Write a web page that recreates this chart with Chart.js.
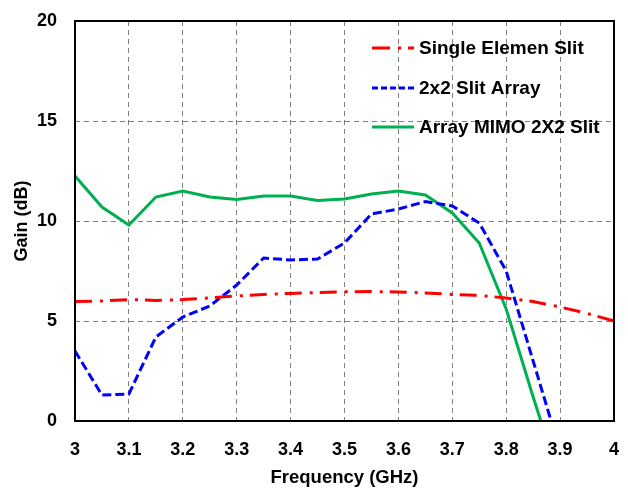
<!DOCTYPE html>
<html>
<head>
<meta charset="utf-8">
<script src="https://cdn.jsdelivr.net/npm/chart.js@4.4.1/dist/chart.umd.min.js"></script>
<style>
  html, body { margin: 0; padding: 0; background: #fff; }
  #wrap { width: 628px; height: 490px; position: relative; }
</style>
</head>
<body>
<div id="wrap"><canvas id="c" width="628" height="490"></canvas></div>
<script>
// ---- data ----
const freqGHz = [3.00, 3.05, 3.10, 3.15, 3.20, 3.25, 3.30, 3.35, 3.40, 3.45, 3.50,
                 3.55, 3.60, 3.65, 3.70, 3.75, 3.80, 3.85, 3.90, 3.95, 4.00];
const singleElementSlit = [5.97, 6.00, 6.07, 6.03, 6.07, 6.15, 6.25, 6.33, 6.38, 6.42, 6.46,
                           6.47, 6.45, 6.40, 6.33, 6.28, 6.15, 5.97, 5.70, 5.38, 5.00];
const slitArray2x2 = [3.5, 1.3, 1.35, 4.2, 5.2, 5.75, 6.8, 8.15, 8.05, 8.1, 8.9,
                      10.35, 10.6, 10.97, 10.75, 9.9, 7.5, 3.0, -1.5, null, null];
const arrayMimo2x2Slit = [12.25, 10.7, 9.8, 11.2, 11.5, 11.2, 11.07, 11.25, 11.25, 11.03, 11.1,
                          11.35, 11.5, 11.3, 10.4, 8.9, 5.6, 1.2, -3.0, null, null];
const seriesNames = ['Single Elemen Slit', '2x2 Slit Array', 'Array MIMO 2X2 Slit'];
const xTicks = [3, 3.1, 3.2, 3.3, 3.4, 3.5, 3.6, 3.7, 3.8, 3.9, 4];
const yTicks = [0, 5, 10, 15, 20];

function pts(vals) {
  return freqGHz.map((x, i) => ({ x: x, y: vals[i] })).filter(p => p.y !== null);
}

const FONT = '"Liberation Sans", Arial, sans-serif';

function zeroPad(s) {
  s.paddingTop = 0; s.paddingBottom = 0; s.paddingLeft = 0; s.paddingRight = 0;
}

const framePlugin = {
  id: 'frame',
  afterDatasetsDraw(chart) {
    const { ctx, chartArea: a } = chart;
    ctx.save();
    ctx.strokeStyle = '#000';
    ctx.lineWidth = 2;
    ctx.setLineDash([]);
    ctx.strokeRect(a.left, a.top, a.right - a.left, a.bottom - a.top);
    ctx.restore();
  }
};

const legendPlugin = {
  id: 'insideLegend',
  afterDraw(chart) {
    const { ctx, chartArea: a } = chart;
    const x0 = a.right - 242, x1 = a.right - 200, tx = a.right - 195;
    const ys = [a.top + 27, a.top + 67, a.top + 106];
    ctx.save();
    chart.data.datasets.forEach((ds, i) => {
      ctx.strokeStyle = ds.borderColor;
      ctx.lineWidth = ds.borderWidth;
      ctx.setLineDash(ds.legendDash || []);
      ctx.beginPath();
      ctx.moveTo(x0, ys[i]);
      ctx.lineTo(x1, ys[i]);
      ctx.stroke();
      ctx.setLineDash([]);
      ctx.fillStyle = '#000';
      ctx.font = 'bold 19px ' + FONT;
      ctx.textBaseline = 'middle';
      ctx.textAlign = 'left';
      ctx.fillText(ds.label, tx, ys[i] + 1);
    });
    ctx.restore();
  }
};

new Chart(document.getElementById('c'), {
  type: 'line',
  data: {
    datasets: [
      { label: seriesNames[0], data: pts(singleElementSlit), borderColor: '#FF0000',
        borderWidth: 3, borderDash: [17, 8, 3, 7], legendDash: [18, 8, 3, 7],
        pointRadius: 0, tension: 0, fill: false, clip: {left: 2, right: 2, top: 2, bottom: 0} },
      { label: seriesNames[1], data: pts(slitArray2x2), borderColor: '#0000FF',
        borderWidth: 3, borderDash: [9, 4], legendDash: [6, 3],
        pointRadius: 0, tension: 0, fill: false, clip: {left: 2, right: 2, top: 2, bottom: 0} },
      { label: seriesNames[2], data: pts(arrayMimo2x2Slit), borderColor: '#00B050',
        borderWidth: 3, borderDash: [], legendDash: [],
        pointRadius: 0, tension: 0, fill: false, clip: {left: 2, right: 2, top: 2, bottom: 0} }
    ]
  },
  options: {
    responsive: false,
    animation: false,
    devicePixelRatio: 1,
    layout: { padding: { top: 21, right: 14, left: 0, bottom: 0 } },
    plugins: { legend: { display: false }, tooltip: { enabled: false } },
    scales: {
      x: {
        type: 'linear', min: 3, max: 4,
        afterBuildTicks: s => { s.ticks = xTicks.map(v => ({ value: v })); },
        afterFit: s => { s.height = 69; zeroPad(s); },
        ticks: {
          color: '#000', padding: 18,
          font: { family: FONT, size: 18, weight: 'bold' },
          callback: v => String(Number(v.toFixed(1)))
        },
        grid: { color: '#808080', lineWidth: 1, drawTicks: false },
        border: { display: false, dash: [5, 4] },
        title: { display: true, text: 'Frequency (GHz)', color: '#000',
                 font: { family: FONT, size: 18.5, weight: 'bold' }, padding: { top: 0, bottom: 1 } }
      },
      y: {
        type: 'linear', min: 0, max: 20,
        afterBuildTicks: s => { s.ticks = yTicks.map(v => ({ value: v })); },
        afterFit: s => { s.width = 75; zeroPad(s); },
        ticks: {
          color: '#000', padding: 18,
          font: { family: FONT, size: 18, weight: 'bold' }
        },
        grid: { color: '#808080', lineWidth: 1, drawTicks: false },
        border: { display: false, dash: [5, 4] },
        title: { display: true, text: 'Gain (dB)', color: '#000',
                 font: { family: FONT, size: 18, weight: 'bold' }, padding: { top: 11.5, bottom: 0 } }
      }
    }
  },
  plugins: [framePlugin, legendPlugin]
});
</script>
</body>
</html>
